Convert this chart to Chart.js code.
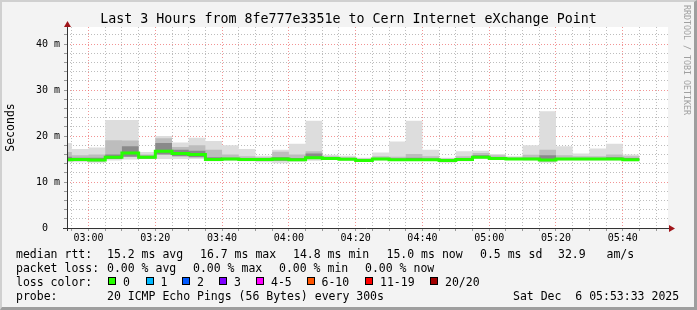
<!DOCTYPE html>
<html>
<head>
<meta charset="utf-8">
<script src="https://cdn.jsdelivr.net/npm/chart.js@4"></script>
<style>
  body { margin: 0; background: #f3f3f3; }
  #wrap { position: relative; width: 697px; height: 310px; overflow: hidden; font-family: 'DejaVu Sans Mono', monospace; color: #000; }
  #frame { position: absolute; left: 0; top: 0; width: 697px; height: 310px; box-sizing: border-box;
           border-left: 2px solid #d0d0d0; border-top: 2px solid #d0d0d0;
           border-right: 3px solid #9e9e9e; border-bottom: 3px solid #9e9e9e; pointer-events: none; }
  canvas { position: absolute; left: 0; top: 0; }
  .t { position: absolute; white-space: pre; font-size: 11.5px; line-height: 14px; }
  .box { position: absolute; top: 277px; width: 6px; height: 6px; border: 1px solid #000; }
  #title { position: absolute; left: 0; top: 11px; width: 697px; text-align: center; font-size: 13.3px; line-height: 16px; white-space: pre; }
  #side { position: absolute; left: 682px; top: 5px; writing-mode: vertical-rl; font-size: 8.3px; color: #a0a0a0; white-space: pre; }
</style>
</head>
<body>
<div id="wrap">
  <canvas id="smokeChart" width="697" height="310"></canvas>
  <div id="title">Last 3 Hours from 8fe777e3351e to Cern Internet eXchange Point</div>
  <div id="side">RRDTOOL / TOBI OETIKER</div>

  <div class="t" style="left:16px;top:247px">median rtt:</div>
  <div class="t" style="left:107px;top:247px">15.2 ms avg</div>
  <div class="t" style="left:200px;top:247px">16.7 ms max</div>
  <div class="t" style="left:293px;top:247px">14.8 ms min</div>
  <div class="t" style="left:386.5px;top:247px">15.0 ms now</div>
  <div class="t" style="left:480px;top:247px">0.5 ms sd</div>
  <div class="t" style="left:558px;top:247px">32.9   am/s</div>

  <div class="t" style="left:16px;top:261px">packet loss:</div>
  <div class="t" style="left:107px;top:261px">0.00 % avg</div>
  <div class="t" style="left:193px;top:261px">0.00 % max</div>
  <div class="t" style="left:279px;top:261px">0.00 % min</div>
  <div class="t" style="left:365px;top:261px">0.00 % now</div>

  <div class="t" style="left:16px;top:275px">loss color:</div>
  <div id="lossLegend"></div>

  <div class="t" style="left:16px;top:289px">probe:</div>
  <div class="t" style="left:107px;top:289px">20 ICMP Echo Pings (56 Bytes) every 300s</div>
  <div class="t" style="left:513px;top:289px">Sat Dec  6 05:53:33 2025</div>
  <div id="frame"></div>
</div>
<script>
// 5 minute steps (start of each step), last one closes at stepEnd
const stepStart = ['02:50','02:55','03:00','03:05','03:10','03:15','03:20','03:25','03:30','03:35',
                   '03:40','03:45','03:50','03:55','04:00','04:05','04:10','04:15','04:20','04:25',
                   '04:30','04:35','04:40','04:45','04:50','04:55','05:00','05:05','05:10','05:15',
                   '05:20','05:25','05:30','05:35','05:40'];
const stepEnd = '05:45';

// ping rtt in ms
const median = [14.85,14.9,14.8,15.4,16.3,15.4,16.7,16.2,16.0,14.9,15.0,14.9,14.9,15.0,14.85,15.3,15.1,14.95,14.7,15.0,
                14.85,14.85,14.85,14.7,14.9,15.4,15.1,15.0,15.0,14.8,15.0,15.0,15.0,15.0,14.85];
const maxRtt = [18.5,17.2,17.5,23.5,23.5,16.5,20.0,18.6,19.6,18.9,18.0,17.2,15.7,17.0,18.3,23.3,15.9,15.7,15.3,16.4,
                18.8,23.3,17.0,15.3,16.7,16.8,16.1,15.6,18.0,25.4,17.8,16.2,17.3,18.3,16.0];
const p90 = [16.5,15.8,16.0,19.1,19.0,16.0,19.5,17.6,18.0,17.0,16.0,15.6,15.4,16.6,16.0,16.7,15.6,15.4,15.1,15.6,
             15.5,16.1,15.6,15.1,15.6,16.3,15.8,15.4,15.9,17.0,15.8,15.6,15.6,16.0,15.6];
const q3 = [15.5,15.3,15.3,16.0,17.8,15.7,18.5,17.0,16.8,15.4,15.3,15.1,15.1,15.4,15.2,16.2,15.3,15.2,14.9,15.2,
            15.1,15.3,15.1,14.9,15.1,15.8,15.3,15.2,15.3,15.8,15.2,15.2,15.2,15.4,15.2];
const q1 = [14.7,14.6,14.5,15.0,15.5,15.1,16.0,15.6,15.4,14.7,14.8,14.7,14.6,14.6,14.6,15.0,14.9,14.8,14.5,14.8,
            14.7,14.7,14.7,14.5,14.7,15.2,14.9,14.9,14.8,14.5,14.8,14.8,14.8,14.8,14.7];
const minRtt = [14.3,14.3,14.2,14.7,14.9,15.0,15.0,15.0,15.0,14.5,14.6,14.5,14.3,14.1,14.4,14.6,14.8,14.6,14.4,14.7,
                14.6,14.6,14.6,14.2,14.5,15.0,14.8,14.8,14.7,14.2,14.7,14.7,14.7,14.7,14.5];

// legend for loss colours
const lossLabels = ['0','1','2','3','4-5','6-10','11-19','20/20'];
const lossColors = ['#26ff00','#00b8ff','#0059ff','#7e00ff','#ff00ff','#ff5500','#ff0000','#a10000'];
const lossBoxX = [108,145.5,182,219,256,306.5,365,430];

const legendDiv = document.getElementById('lossLegend');
lossLabels.forEach((lbl, i) => {
    const b = document.createElement('div');
    b.className = 'box';
    b.style.left = lossBoxX[i] + 'px';
    b.style.background = lossColors[i];
    legendDiv.appendChild(b);
    const t = document.createElement('div');
    t.className = 't';
    t.style.left = (lossBoxX[i] + 15) + 'px';
    t.style.top = '275px';
    t.innerText = lbl;
    legendDiv.appendChild(t);
});

function toMin(s) {
    const p = s.split(':');
    return parseInt(p[0]) * 60 + parseInt(p[1]);
}

function series(vals) {
    let pts = vals.map((v, i) => ({ x: toMin(stepStart[i]), y: v }));
    pts.push({ x: toMin(stepEnd), y: vals[vals.length - 1] });
    return pts;
}

function band(lower, upper, color, order) {
    return [
        { data: series(lower), borderWidth: 0, pointRadius: 0, fill: false, order: order, stepped: true, clip: 0 },
        { data: series(upper), borderWidth: 0, pointRadius: 0, fill: '-1', backgroundColor: color, order: order, stepped: true, clip: 0 }
    ];
}

const xMin = 173.55;   // 02:53:33
const xMax = 353.55;   // 05:53:33

const plotBg = {
    id: 'plotBg',
    beforeDraw(chart) {
        const { ctx, chartArea: a } = chart;
        ctx.save();
        ctx.fillStyle = '#ffffff';
        ctx.fillRect(a.left, a.top, a.right - a.left, a.bottom - a.top);
        ctx.restore();
    },
    afterDraw(chart) {
        const { ctx, chartArea: a } = chart;
        ctx.save();
        ctx.strokeStyle = '#333333';
        ctx.lineWidth = 1;
        ctx.beginPath();
        ctx.moveTo(a.left + 0.5, a.bottom + 3);
        ctx.lineTo(a.left + 0.5, a.top - 2);
        ctx.moveTo(a.left - 4, a.bottom + 0.5);
        ctx.lineTo(a.right + 2, a.bottom + 0.5);
        ctx.stroke();
        ctx.fillStyle = '#a0151a';
        ctx.beginPath();
        ctx.moveTo(a.left + 0.5, a.top - 6);
        ctx.lineTo(a.left - 3, a.top);
        ctx.lineTo(a.left + 4, a.top);
        ctx.fill();
        ctx.beginPath();
        ctx.moveTo(a.right + 7, a.bottom + 0.5);
        ctx.lineTo(a.right + 1, a.bottom - 3);
        ctx.lineTo(a.right + 1, a.bottom + 4);
        ctx.fill();
        ctx.restore();
    }
};

const gridGray = '#bdbdbd';
const gridRed = 'rgba(235,90,90,0.65)';

const ctx = document.getElementById('smokeChart').getContext('2d');
const smokeChart = new Chart(ctx, {
    type: 'line',
    data: {
        datasets: [
            ...band(minRtt, maxRtt, '#dddddd', 5),
            ...band(q1, p90, '#bdbdbd', 4),
            ...band(q1, q3, '#8a8a8a', 3),
            { data: series(median), borderColor: '#26ff00', borderWidth: 3, pointRadius: 0, fill: false, order: 1, stepped: true, clip: 0 }
        ]
    },
    options: {
        responsive: false,
        animation: false,
        devicePixelRatio: 1,
        layout: { padding: { left: 0, top: 27, right: 29, bottom: 62 } },
        plugins: { legend: { display: false }, tooltip: { enabled: false } },
        scales: {
            x: {
                type: 'linear',
                min: xMin,
                max: xMax,
                z: 1,
                afterBuildTicks: s => {
                    let t = [];
                    for (let v = 175; v <= 350; v += 5) t.push({ value: v });
                    s.ticks = t;
                },
                afterFit: s => { s.height = 20; },
                ticks: {
                    autoSkip: false,
                    maxRotation: 0,
                    padding: 1,
                    color: '#000',
                    font: { family: 'DejaVu Sans Mono', size: 10 },
                    callback: v => {
                        if (v % 20 !== 0) return '';
                        const h = Math.floor(v / 60), m = v % 60;
                        return String(h).padStart(2, '0') + ':' + String(m).padStart(2, '0');
                    }
                },
                grid: {
                    color: c => (c.tick && c.tick.value % 20 === 0) ? gridRed : gridGray,
                    tickColor: '#999999',
                    tickLength: 3
                },
                border: { display: false, dash: [1, 2] }
            },
            y: {
                min: 0,
                max: 43.7,
                z: 1,
                afterBuildTicks: s => {
                    let t = [];
                    for (let v = 0; v <= 42; v += 2) t.push({ value: v });
                    s.ticks = t;
                },
                afterFit: s => { s.width = 67; },
                ticks: {
                    autoSkip: false,
                    padding: 4,
                    color: '#000',
                    font: { family: 'DejaVu Sans Mono', size: 10 },
                    callback: v => {
                        if (v === 0) return '0  ';
                        return v % 10 === 0 ? v + ' m' : '';
                    }
                },
                grid: {
                    color: c => (c.tick && c.tick.value % 10 === 0) ? gridRed : gridGray,
                    tickColor: '#999999',
                    tickLength: 3
                },
                border: { display: false, dash: [1, 2] },
                title: {
                    display: true,
                    text: 'Seconds',
                    color: '#000',
                    font: { family: 'DejaVu Sans Mono', size: 11.5 },
                    padding: { top: 4, bottom: 0 }
                }
            }
        }
    },
    plugins: [plotBg]
});
</script>
</body>
</html>
